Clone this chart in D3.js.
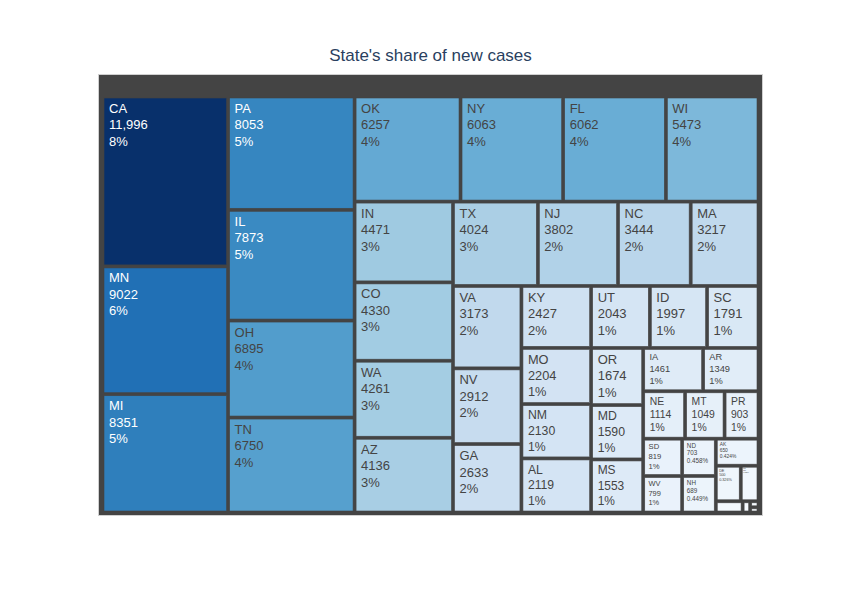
<!DOCTYPE html>
<html>
<head>
<meta charset="utf-8">
<script src="https://cdn.jsdelivr.net/npm/d3@7"></script>
<style>
  html, body { margin: 0; padding: 0; background: #fff; }
  svg { display: block; font-family: "Liberation Sans", Arial, Helvetica, sans-serif; }
</style>
</head>
<body>
<svg id="chart" width="861" height="615"></svg>
<script>
// ---- data ----
const title = "State's share of new cases";
const states = ["CA","MN","MI","PA","IL","OH","TN","OK","NY","FL","WI","IN","CO","WA","AZ","TX","NJ","NC","MA","VA","NV","GA","KY","MO","NM","AL","UT","ID","SC","OR","MD","MS","IA","AR","NE","MT","PR","SD","WV","ND","NH","AK","DE","ME","DC","HI","VT","GU"];
const newCases = [11996,9022,8351,8053,7873,6895,6750,6257,6063,6062,5473,4471,4330,4261,4136,4024,3802,3444,3217,3173,2912,2633,2427,2204,2130,2119,2043,1997,1791,1674,1590,1553,1461,1349,1114,1049,903,819,799,703,689,650,500,356,169,48,28,24];
const colorStops = [0,0.125,0.25,0.375,0.5,0.625,0.75,0.875,1];
const colorScaleColors = ["rgb(247,251,255)","rgb(222,235,247)","rgb(198,219,239)","rgb(158,202,225)","rgb(107,174,214)","rgb(66,146,198)","rgb(33,113,181)","rgb(8,81,156)","rgb(8,48,107)"];

// ---- layout ----
const svg = d3.select("#chart");
const W = 861, H = 615;
const outer = {x0: 98.5, y0: 74.5, x1: 762.5, y1: 515.5};
const inner = {x0: 104, y0: 98, x1: 757, y1: 511};

svg.append("text")
  .attr("x", W / 2).attr("y", 61)
  .attr("text-anchor", "middle")
  .attr("font-size", 17)
  .attr("fill", "#2a3f5f")
  .text(title);

svg.append("rect")
  .attr("x", outer.x0).attr("y", outer.y0)
  .attr("width", outer.x1 - outer.x0).attr("height", outer.y1 - outer.y0)
  .attr("fill", "#444").attr("stroke", "#d0d0d0").attr("stroke-width", 1);

const data = states.map((s, i) => ({name: s, value: newCases[i]}));
const total = d3.sum(newCases);
const vmax = d3.max(newCases);

const color = d3.scaleLinear()
  .domain(colorStops.map(d => d * vmax))
  .range(colorScaleColors)
  .interpolate(d3.interpolateRgb)
  .clamp(true);

const root = d3.hierarchy({name: "total", children: data})
  .sum(d => d.value || 0)
  .sort((a, b) => b.value - a.value);

d3.treemap()
  .tile(d3.treemapSquarify.ratio(1))
  .size([inner.x1 - inner.x0, inner.y1 - inner.y0])
  .paddingInner(3)
  .round(false)(root);

function fmtVal(v) { return v >= 10000 ? d3.format(",")(v) : String(v); }
function fmtPct(r) {
  const p = Math.round(100 * r);
  if (p !== 0) return p + "%";
  return d3.format(".3")(100 * r) + "%";
}
function textColor(c) {
  const rgb = d3.rgb(c);
  const br = (rgb.r * 299 + rgb.g * 587 + rgb.b * 114) / 1000;
  return br >= 128 ? "#444" : "#fff";
}

const g = svg.append("g").attr("transform", `translate(${inner.x0},${inner.y0})`);
const leaves = root.leaves();
const cell = g.selectAll("g.cell").data(leaves).join("g").attr("class", "cell");

cell.append("rect")
  .attr("x", d => d.x0).attr("y", d => d.y0)
  .attr("width", d => d.x1 - d.x0).attr("height", d => d.y1 - d.y0)
  .attr("fill", d => color(d.data.value))
  .attr("stroke", "#444").attr("stroke-width", 0.6);

const FS = 13, LH = 16.5;
cell.each(function(d) {
  const sel = d3.select(this);
  const c = color(d.data.value);
  const lines = [d.data.name, fmtVal(d.data.value), fmtPct(d.data.value / total)];
  const tg = sel.append("g");
  const t = tg.append("text")
    .attr("font-size", FS)
    .attr("fill", textColor(c));
  lines.forEach((ln, i) => {
    t.append("tspan").attr("x", 0).attr("y", 12 + i * LH).text(ln);
  });
  const bb = t.node().getBBox();
  const w = d.x1 - d.x0, h = d.y1 - d.y0;
  const s = Math.min(1, (w - 9) / bb.width, (h - 6) / bb.height);
  const sc = Math.max(s, 0.05);
  tg.attr("transform", `translate(${d.x0 + 5 * Math.min(1, sc * 1.3)},${d.y0 + 2.5 * Math.min(1, sc * 1.3)}) scale(${sc})`);
});
</script>
</body>
</html>
